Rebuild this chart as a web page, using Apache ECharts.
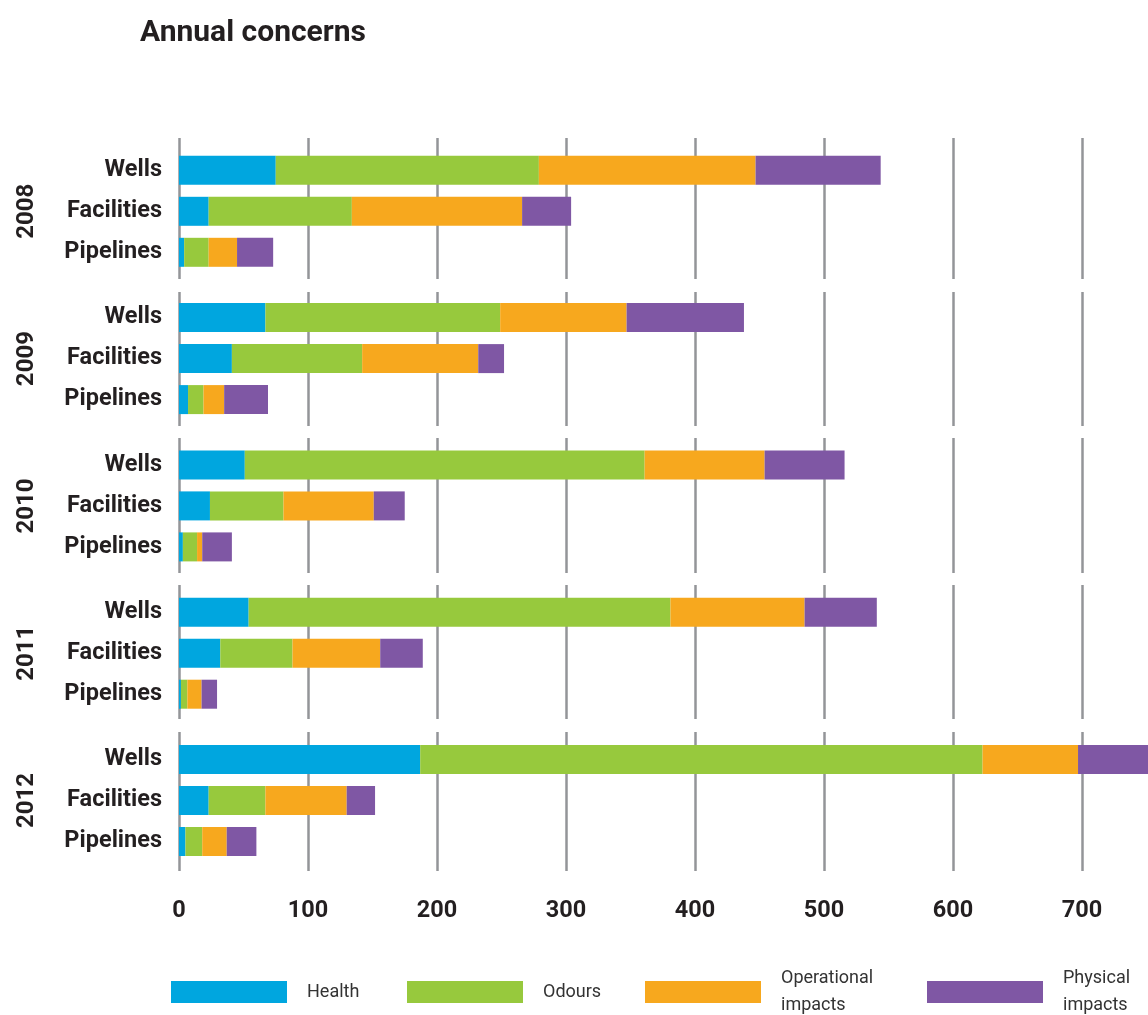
<!DOCTYPE html>
<html>
<head>
<meta charset="utf-8">
<script src="https://cdn.jsdelivr.net/npm/echarts@6/dist/echarts.min.js"></script>
<style>
  html, body { margin: 0; padding: 0; background: #ffffff; }
  #chart { width: 1148px; height: 1015px; }
</style>
</head>
<body>
<div id="chart"></div>
<script>
// ---------- data ----------
const years = ['2008', '2009', '2010', '2011', '2012'];
const sources = ['Wells', 'Facilities', 'Pipelines'];
const seriesNames = ['Health', 'Odours', 'Operational impacts', 'Physical impacts'];
const xTicks = [0, 100, 200, 300, 400, 500, 600, 700];
// values ordered: 2008 Wells, Facilities, Pipelines, 2009 Wells, ...
const health      = [75, 23, 4,   67, 41, 7,   51, 24, 3,   54, 32, 1.5,  187, 23, 5];
const odours      = [204, 111, 19, 182, 101, 12, 310, 57, 11, 327, 56, 5,  436, 44, 13];
const operational = [168, 132, 22, 98, 90, 16,  93, 70, 4,   104, 68, 11,  74, 63, 19];
const physical    = [97, 38, 28,  91, 20, 34,   62, 24, 23,  56, 33, 12,   70, 22, 23];

// ---------- style / layout ----------
const colors = ['#00a6df', '#97c93d', '#f7a81e', '#7f57a4'];
const FONT = "Roboto, 'Liberation Sans', sans-serif";
const TEXT = '#231f20';
const GRID_LEFT = 179, GRID_RIGHT = -10, X_MAX = 759;
const barTop0 = 149.8, groupPitch = 147.3, barGridH = 123;
const lineTops = [138, 292, 438, 585, 732];
const lineBottoms = [279, 426, 573, 719, 871];
const legendLefts = [171, 407, 645, 927];

const valueSets = [health, odours, operational, physical];

const grids = [], xAxes = [], yAxes = [], series = [];

years.forEach((yr, i) => {
  // bar grid
  grids.push({
    left: GRID_LEFT, right: GRID_RIGHT, top: barTop0 + i * groupPitch, height: barGridH,
    containLabel: false, outerBoundsMode: 'none'
  });
  xAxes.push({
    gridIndex: i, type: 'value', min: 0, max: X_MAX, interval: 100,
    axisLine: { show: false }, axisTick: { show: false }, axisLabel: { show: false }, splitLine: { show: false }
  });
  yAxes.push({
    gridIndex: i, type: 'category', data: sources, inverse: true,
    axisLine: { show: false }, axisTick: { show: false },
    axisLabel: { color: TEXT, fontFamily: FONT, fontWeight: 'bold', fontSize: 23.5, margin: 17 },
    name: yr, nameLocation: 'middle', nameRotate: 90, nameGap: 140,
    nameTextStyle: { color: TEXT, fontFamily: FONT, fontWeight: 'bold', fontSize: 24 }
  });
  valueSets.forEach((vals, s) => {
    series.push({
      type: 'bar', name: seriesNames[s], xAxisIndex: i, yAxisIndex: i, stack: 'y' + yr,
      barWidth: 29, itemStyle: { color: colors[s] }, emphasis: { disabled: true },
      data: vals.slice(i * 3, i * 3 + 3), z: 3
    });
  });
});

// gridline frames
years.forEach((yr, i) => {
  const gi = grids.length;
  grids.push({
    left: GRID_LEFT, right: GRID_RIGHT, top: lineTops[i], height: lineBottoms[i] - lineTops[i],
    containLabel: false, outerBoundsMode: 'none'
  });
  const last = i === years.length - 1;
  xAxes.push({
    gridIndex: gi, type: 'value', min: 0, max: X_MAX, interval: 100,
    axisLine: { show: false }, axisTick: { show: false },
    axisLabel: {
      show: last, color: TEXT, fontFamily: FONT, fontWeight: 'bold', fontSize: 23.5, margin: 28,
      showMaxLabel: false,
      formatter: v => (xTicks.indexOf(v) >= 0 ? String(v) : '')
    },
    splitLine: { show: true, lineStyle: { color: '#939598', width: 2.5 } }
  });
  yAxes.push({ gridIndex: gi, type: 'value', show: false });
});

const legends = seriesNames.map((n, s) => {
  const twoLine = n.indexOf(' ') >= 0;
  return {
    data: [n], left: legendLefts[s], top: twoLine ? 965 : 978.5, padding: 0,
    orient: 'horizontal', itemWidth: 116, itemHeight: 22, itemGap: 0,
    icon: 'rect', selectedMode: false,
    formatter: name => name.replace(' ', '\n'),
    textStyle: { color: '#333333', fontFamily: FONT, fontSize: 18, lineHeight: 27, padding: [0, 0, 0, 15] }
  };
});

const chart = echarts.init(document.getElementById('chart'), null, { renderer: 'canvas' });
chart.setOption({
  animation: false,
  backgroundColor: '#ffffff',
  title: {
    text: 'Annual concerns', left: 135, top: 13,
    textStyle: { color: TEXT, fontFamily: FONT, fontWeight: 'bold', fontSize: 30 }
  },
  legend: legends,
  grid: grids,
  xAxis: xAxes,
  yAxis: yAxes,
  series: series
});
</script>
</body>
</html>
